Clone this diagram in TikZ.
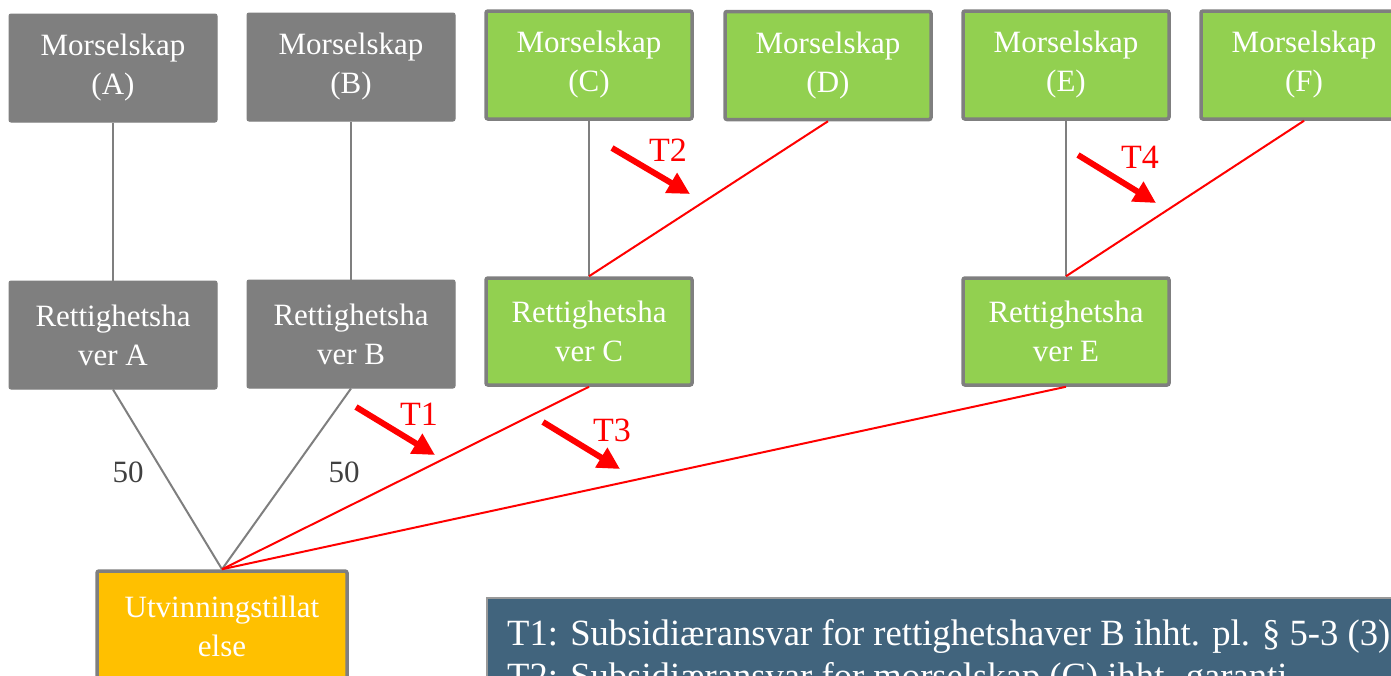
\documentclass[tikz,border=0pt]{standalone}
\usepackage{fontspec}
\setmainfont{Liberation Serif}
\usetikzlibrary{arrows.meta}
\definecolor{boxgrey}{HTML}{7F7F7F}
\definecolor{boxgreen}{HTML}{92D050}
\definecolor{boxgold}{HTML}{FFC000}
\definecolor{notebg}{HTML}{41647D}
\definecolor{numgrey}{HTML}{404040}
\tikzset{
  base/.style={rectangle, rounded corners=2pt, inner sep=0pt, minimum width=208pt, minimum height=108pt,
    align=center, text=white, font=\fontsize{31}{39}\selectfont},
  greybox/.style={base, fill=boxgrey, draw=boxgrey, line width=1pt},
  greenbox/.style={base, fill=boxgreen, draw=boxgrey, line width=3.5pt},
  goldbox/.style={base, fill=boxgold, draw=boxgrey, line width=3.5pt},
  link/.style={draw=boxgrey, line width=2pt},
  redlink/.style={draw=red, line width=2pt},
  marker/.style={draw=red, line width=6pt, -{Triangle[length=22pt,width=22pt]}},
  tlabel/.style={text=red, font=\fontsize{34}{40}\selectfont, inner sep=0pt},
  numlabel/.style={text=numgrey, font=\fontsize{31}{38}\selectfont, inner sep=0pt},
  notetext/.style={anchor=base west, text=white, font=\fontsize{37}{42}\selectfont, inner sep=0pt},
}
\begin{document}
\begin{tikzpicture}[x=1pt,y=-1pt]
\useasboundingbox (0,0) rectangle (1391,675);
\clip (0,0) rectangle (1391,675);
% top row
\node[greybox] (mA) at (113,68) {Morselskap\\(A)};
\node[greybox] (mB) at (351,67) {Morselskap\\(B)};
\node[greenbox, minimum width=206pt] (mC) at (589,65) {Morselskap\\(C)};
\node[greenbox, minimum width=206pt] (mD) at (828,65.5) {Morselskap\\(D)};
\node[greenbox, minimum width=206pt] (mE) at (1066,65) {Morselskap\\(E)};
\node[greenbox, minimum width=206pt] (mF) at (1304,65) {Morselskap\\(F)};
% second row
\node[greybox] (rA) at (113,335) {Rettighetsha\\ver A};
\node[greybox] (rB) at (351,334) {Rettighetsha\\ver B};
\node[greenbox, minimum width=206pt, minimum height=107pt] (rC) at (589,331.5) {Rettighetsha\\ver C};
\node[greenbox, minimum width=206pt, minimum height=107pt] (rE) at (1066,331.5) {Rettighetsha\\ver E};
% licence
\node[goldbox, minimum width=250pt, minimum height=110pt] (utv) at (222,626) {Utvinningstillat\\else};
% connectors
\draw[link] (mA.south) -- (rA.north);
\draw[link] (mB.south) -- (rB.north);
\draw[link] (mC.south) -- (rC.north);
\draw[link] (mE.south) -- (rE.north);
\draw[redlink] (mD.south) -- (rC.north);
\draw[redlink] (mF.south) -- (rE.north);
\draw[link] (rA.south) -- (utv.north);
\draw[link] (rB.south) -- (utv.north);
\draw[redlink] (rC.south) -- (utv.north);
\draw[redlink] (rE.south) -- (utv.north);
% share labels
\node[numlabel] (p1) at (128,472) {50};
\node[numlabel] (p2) at (344,472) {50};
% markers
\coordinate (t2s) at (612,148); \coordinate (t2e) at (690,194);
\coordinate (t4s) at (1078,155); \coordinate (t4e) at (1156,203);
\coordinate (t1s) at (356,407); \coordinate (t1e) at (435,455);
\coordinate (t3s) at (543,422); \coordinate (t3e) at (620,469);
\draw[marker] (t2s) -- (t2e);
\draw[marker] (t4s) -- (t4e);
\draw[marker] (t1s) -- (t1e);
\draw[marker] (t3s) -- (t3e);
\node[tlabel] (l2) at (668,150) {T2};
\node[tlabel] (l4) at (1140,157) {T4};
\node[tlabel] (l1) at (419,414) {T1};
\node[tlabel] (l3) at (612,430) {T3};
% note box
\node[rectangle, fill=notebg, draw=boxgrey!80, line width=2pt, minimum width=960pt, minimum height=140pt, anchor=north west, inner sep=0pt] (note) at (486,597) {};
\node[notetext] (n1) at (507,645) {\scalebox{0.99}[1]{T1: Subsidiæransvar for rettighetshaver B ihht. pl. § 5-3 (3)}};
\node[notetext] (n2) at (507,688) {\scalebox{0.99}[1]{T2: Subsidiæransvar for morselskap (C) ihht. garanti}};
\end{tikzpicture}
\end{document}
